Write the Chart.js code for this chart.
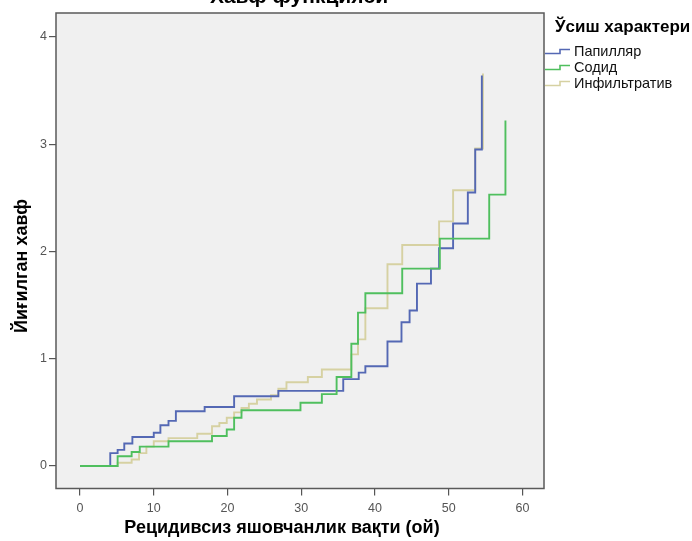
<!DOCTYPE html>
<html>
<head>
<meta charset="utf-8">
<script src="https://cdn.jsdelivr.net/npm/chart.js@4/dist/chart.umd.min.js"></script>
<style>
  html, body { margin: 0; padding: 0; background: #ffffff; }
  #wrap { width: 692px; height: 541px; position: relative; }
</style>
</head>
<body>
<div id="wrap"><canvas id="c" width="692" height="541"></canvas></div>
<script>
// Texts
const chartTitle = 'Хавф функцияси';
const xTitle = 'Рецидивсиз яшовчанлик вақти (ой)';
const yTitle = 'Йиғилган хавф';
const legendTitle = 'Ўсиш характери';
const groups = ['Папилляр', 'Содид', 'Инфильтратив'];

// Axis tick labels
const xTicks = [0, 10, 20, 30, 40, 50, 60];
const yTicks = [0, 1, 2, 3, 4];

// Cumulative hazard, step points (time in months, hazard)
const papTime = [0, 4.1, 5.1, 6.0, 7.1, 10.0, 10.9, 12.0, 13.0, 16.9, 20.9, 26.9, 35.7, 37.8, 38.7, 41.7, 43.6, 44.7, 45.7, 47.6, 48.7, 50.6, 52.6, 53.6, 54.5];
const papHaz  = [0, 0.12, 0.15, 0.21, 0.27, 0.31, 0.38, 0.42, 0.51, 0.55, 0.65, 0.70, 0.81, 0.87, 0.93, 1.16, 1.34, 1.45, 1.70, 1.84, 2.03, 2.26, 2.55, 2.95, 3.64];

const solTime = [0, 5.1, 7.0, 8.1, 12.0, 17.9, 19.9, 20.9, 21.9, 29.9, 32.8, 34.8, 36.8, 37.7, 38.7, 43.7, 48.8, 55.5, 57.7];
const solHaz  = [0, 0.09, 0.13, 0.18, 0.23, 0.28, 0.34, 0.45, 0.52, 0.59, 0.67, 0.83, 1.14, 1.43, 1.61, 1.84, 2.12, 2.53, 3.22];

const infTime = [0, 5.1, 7.0, 8.0, 9.0, 10.0, 12.0, 15.9, 17.9, 18.9, 19.9, 20.9, 21.9, 22.9, 24.0, 25.9, 26.9, 28.0, 30.9, 32.8, 36.8, 37.7, 38.7, 41.7, 43.7, 48.7, 50.6, 53.6, 54.65];
const infHaz  = [0, 0.03, 0.06, 0.12, 0.18, 0.23, 0.26, 0.30, 0.37, 0.40, 0.45, 0.50, 0.54, 0.58, 0.62, 0.66, 0.72, 0.78, 0.83, 0.90, 1.04, 1.18, 1.47, 1.88, 2.06, 2.28, 2.57, 2.96, 3.66];

const seriesTimes = [papTime, solTime, infTime];
const seriesHaz = [papHaz, solHaz, infHaz];
const colors = ['#5468b4', '#4fbf5e', '#d6d1a2'];
// stacking of the curves: lower value is drawn on top
const drawOrder = [1, 0, 2];

const FONT = "'Liberation Sans', Arial, sans-serif";
const NARROW = "'Liberation Sans Narrow', 'Liberation Sans', Arial, sans-serif";

const framePlugin = {
  id: 'frame',
  beforeDraw(chart) {
    const { ctx, chartArea: a } = chart;
    ctx.save();
    ctx.fillStyle = '#f0f0f0';
    ctx.fillRect(a.left, a.top, a.right - a.left, a.bottom - a.top);
    ctx.restore();
  },
  afterDraw(chart) {
    const { ctx, chartArea: a } = chart;
    ctx.save();
    // plot frame
    ctx.strokeStyle = '#5a5a5a';
    ctx.lineWidth = 1.5;
    ctx.strokeRect(a.left, a.top, a.right - a.left, a.bottom - a.top);

    // chart title (runs off the top edge)
    ctx.fillStyle = '#000';
    ctx.font = 'bold 21px ' + FONT;
    ctx.textAlign = 'center';
    ctx.textBaseline = 'alphabetic';
    ctx.fillText(chartTitle, 299, 3);

    // axis titles
    ctx.font = 'bold 18px ' + FONT;
    ctx.textBaseline = 'middle';
    ctx.fillText(xTitle, 282, 528);
    ctx.save();
    ctx.translate(22, 266);
    ctx.rotate(-Math.PI / 2);
    ctx.fillText(yTitle, 0, 0);
    ctx.restore();

    // legend
    ctx.textAlign = 'left';
    ctx.font = 'bold 17px ' + FONT;
    ctx.fillText(legendTitle, 555, 27);
    ctx.font = '14.5px ' + FONT;
    chart.data.datasets.forEach((ds, i) => {
      const y = 52 + i * 16;
      ctx.strokeStyle = ds.borderColor;
      ctx.lineWidth = 1.6;
      ctx.beginPath();
      ctx.moveTo(545, y + 1.5);
      ctx.lineTo(560, y + 1.5);
      ctx.lineTo(560, y - 2.5);
      ctx.lineTo(570, y - 2.5);
      ctx.stroke();
      ctx.fillStyle = '#111';
      ctx.fillText(ds.label, 574, y);
    });
    ctx.restore();
  }
};

new Chart(document.getElementById('c'), {
  type: 'line',
  data: {
    datasets: groups.map((g, i) => ({
      label: g,
      data: seriesTimes[i].map((t, j) => ({ x: t, y: seriesHaz[i][j] })),
      borderColor: colors[i],
      borderWidth: 1.9,
      stepped: 'before',
      pointRadius: 0,
      fill: false,
      order: drawOrder[i]
    }))
  },
  options: {
    responsive: false,
    animation: false,
    devicePixelRatio: 1,
    layout: { padding: { top: 13, right: 148, left: 0, bottom: 0 } },
    plugins: { legend: { display: false }, title: { display: false }, tooltip: { enabled: false } },
    scales: {
      x: {
        type: 'linear',
        min: -3.26,
        max: 62.93,
        afterBuildTicks: s => { s.ticks = xTicks.map(v => ({ value: v })); },
        afterFit: s => { s.height = 52.5; },
        grid: { drawOnChartArea: false, drawTicks: true, tickLength: 7, color: '#555', lineWidth: 1.2 },
        border: { display: false },
        ticks: { color: '#555', font: { family: NARROW, size: 12.5 }, padding: 6, maxRotation: 0 }
      },
      y: {
        type: 'linear',
        min: -0.21,
        max: 4.223,
        afterBuildTicks: s => { s.ticks = yTicks.map(v => ({ value: v })); },
        afterFit: s => { s.width = 56; },
        grid: { drawOnChartArea: false, drawTicks: true, tickLength: 7, color: '#555', lineWidth: 1.2 },
        border: { display: false },
        ticks: { color: '#555', font: { family: NARROW, size: 12.5 }, padding: 2 }
      }
    }
  },
  plugins: [framePlugin]
});
</script>
</body>
</html>
